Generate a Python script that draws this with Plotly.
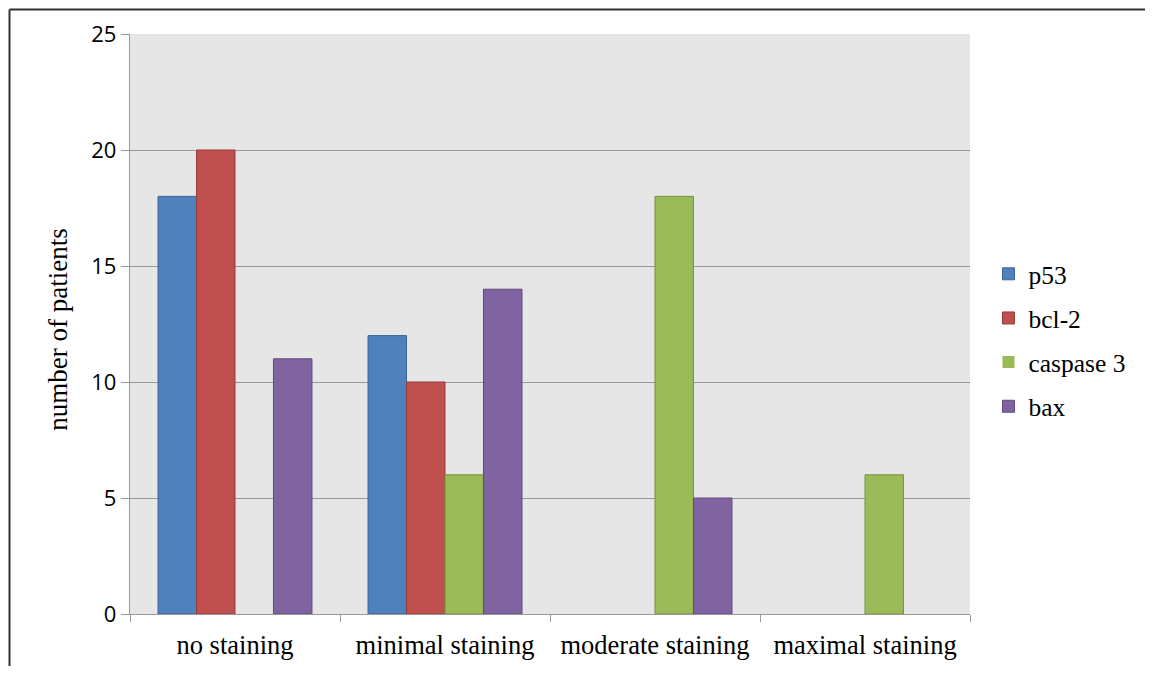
import plotly.graph_objects as go

categories = ["no staining", "minimal staining", "moderate staining", "maximal staining"]
series_names = ["p53", "bcl-2", "caspase 3", "bax"]
p53 = [18, 12, 0, 0]
bcl2 = [20, 10, 0, 0]
caspase3 = [0, 6, 18, 6]
bax = [11, 14, 5, 0]
y_ticks = [0, 5, 10, 15, 20, 25]
y_title = "number of patients"

colors = ["#4f81bd", "#c0504d", "#9bbb59", "#8064a2"]
edges = ["#3a6496", "#943c3a", "#76923c", "#5f4a7a"]
values = [p53, bcl2, caspase3, bax]

fig = go.Figure()
for name, vals, c, e in zip(series_names, values, colors, edges):
    fig.add_trace(go.Bar(x=categories, y=vals, name=name, legendgroup=name,
                         marker=dict(color=c, line=dict(color=e,
                                     width=[1 if v > 0 else 0 for v in vals]))))

serif = "Liberation Serif, Times New Roman, serif"
# page body has an 8px margin; size the figure to fit inside the window
W, H = 1137, 658
L, T, PW, PH = 122, 26, 840, 580
fig.update_layout(
    width=W, height=H,
    margin=dict(l=L, r=W - L - PW, t=T, b=H - T - PH, autoexpand=False),
    paper_bgcolor="white", plot_bgcolor="#e6e6e6",
    barmode="group", bargap=0.267, bargroupgap=0,
    showlegend=True,
    legend=dict(x=1.022, xanchor="left", y=0.472, yanchor="middle",
                font=dict(family=serif, size=25.5, color="black"),
                itemwidth=30, tracegroupgap=8, bgcolor="rgba(0,0,0,0)"),
    xaxis=dict(tickson="boundaries", ticks="outside", ticklen=7, tickcolor="#999999",
               tickwidth=1.3, showline=True, linecolor="#999999", linewidth=1.3,
               showgrid=False, ticklabelstandoff=7,
               tickfont=dict(family=serif, size=26.5, color="black")),
    yaxis=dict(range=[0, 25], tickvals=y_ticks, ticks="outside", ticklen=8,
               tickcolor="#999999", tickwidth=1.3, showline=True, linecolor="#999999",
               linewidth=1.3, showgrid=True, gridcolor="#999999", gridwidth=1.3,
               zeroline=False,
               tickfont=dict(family="Open Sans, sans-serif", size=22, color="black")),
)
fig.add_annotation(text=y_title, xref="paper", yref="paper", x=-72 / PW, y=0.49,
                   xanchor="center", yanchor="middle", textangle=-90, showarrow=False,
                   font=dict(family=serif, size=27, color="black"))
# outer figure border (top and left), at the figure's top-left edge
top = 1 + (T - 1.5) / PH
left = (1.5 - L) / PW
fig.add_shape(type="line", xref="paper", yref="paper",
              x0=left, x1=(W - L) / PW, y0=top, y1=top,
              line=dict(color="#333333", width=2))
fig.add_shape(type="line", xref="paper", yref="paper",
              x0=left, x1=left, y0=top, y1=-(H - T - PH) / PH,
              line=dict(color="#333333", width=2))
fig.write_html("out.html")
